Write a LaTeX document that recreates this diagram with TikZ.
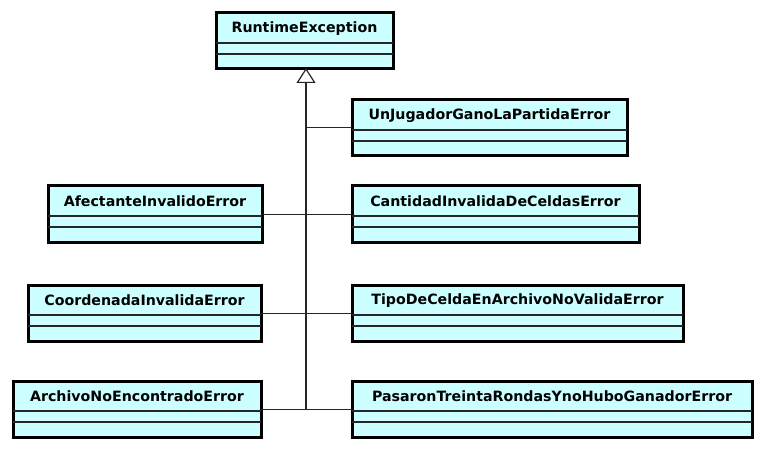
\documentclass[tikz,border=0pt]{standalone}
\usepackage{fontspec}
\setmainfont{DejaVu Sans}
\usetikzlibrary{arrows.meta}
\definecolor{clsfill}{RGB}{204,255,255}
\tikzset{
  cls/.style={draw=black, line width=3pt, fill=clsfill, rectangle, minimum height=56pt, inner sep=0pt, outer sep=0pt},
  ttl/.style={font=\bfseries\fontsize{14.2}{16}\selectfont, inner sep=0pt, anchor=center},
  sep/.style={line width=1.4pt, draw=black!85},
  conn/.style={line width=1pt, draw=black!85},
  trunk/.style={line width=1.8pt, draw=black!85}
}
\newcommand{\umlcls}[6]{%
  \node[cls, minimum width={#3-#2}] (#1) at ({(#2+#3)/2},{#4+28}) {};
  \node[ttl] (#1t) at ({(#2+#3)/2},{#4+15.5}) {#6};
  \draw[sep] ([yshift=-30pt]#1.north west) -- ([yshift=-30pt]#1.north east);
  \draw[sep] ([yshift=-41pt]#1.north west) -- ([yshift=-41pt]#1.north east);
}
\begin{document}
\begin{tikzpicture}[x=1pt,y=-1pt]
\useasboundingbox (0,0) rectangle (765,449);
\umlcls{re}{216}{393}{13}{}{RuntimeException}
\umlcls{unj}{352}{627}{100}{}{UnJugadorGanoLaPartidaError}
\umlcls{afe}{48}{262}{186}{}{AfectanteInvalidoError}
\umlcls{can}{352}{639}{186}{}{CantidadInvalidaDeCeldasError}
\umlcls{coo}{28}{261}{285}{}{CoordenadaInvalidaError}
\umlcls{tip}{352}{683}{285}{}{TipoDeCeldaEnArchivoNoValidaError}
\umlcls{arc}{13}{261}{381}{}{ArchivoNoEncontradoError}
\umlcls{pas}{352}{752}{381}{}{PasaronTreintaRondasYnoHuboGanadorError}
\coordinate (tb) at (306,409);
\coordinate (tt) at (306,68);
\coordinate (j1) at (306,128);
\draw[trunk, -{Triangle[open, length=15pt, width=19pt, line width=1.2pt]}] (tb) -- (tt);
\draw[conn] (j1) -- (unj.west);
\draw[conn] (afe.east) -- (can.west);
\draw[conn] (coo.east) -- (tip.west);
\draw[conn] (arc.east) -- (pas.west);
\end{tikzpicture}
\end{document}
